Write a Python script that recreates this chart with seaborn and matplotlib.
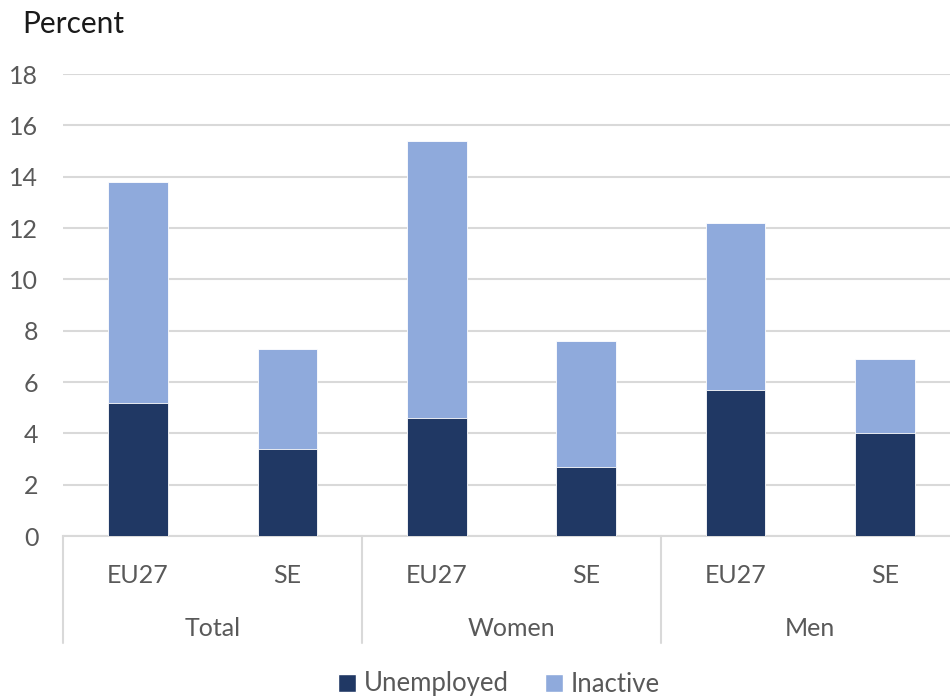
import matplotlib
matplotlib.use("Agg")
import matplotlib.pyplot as plt
from matplotlib.patches import Patch
from matplotlib.transforms import blended_transform_factory
import seaborn as sns
import pandas as pd

groups = ["Total", "Women", "Men"]
areas = ["EU27", "SE"]
unemployed = [5.2, 3.4, 4.6, 2.7, 5.7, 4.0]
inactive = [8.6, 3.9, 10.8, 4.9, 6.5, 2.9]

keys = [f"{g} {a}" for g in groups for a in areas]
df = pd.DataFrame({
    "key": keys,
    "area": [a for g in groups for a in areas],
    "unemployed": unemployed,
    "inactive": inactive,
})
df["total"] = df["unemployed"] + df["inactive"]

sns.set_theme(style="white")
plt.rcParams["font.family"] = ["Lato", "DejaVu Sans"]

dark = "#203864"
light = "#8FAADC"
grid_c = "#D9D9D9"
text_c = "#595959"

fig = plt.figure(figsize=(9.5, 7), dpi=100)
ax = fig.add_axes([63.3 / 950, 164 / 700, 896.4 / 950, 462 / 700])

sns.barplot(data=df, x="key", y="total", order=keys, color=light,
            width=0.4, saturation=1, ax=ax, zorder=3)
sns.barplot(data=df, x="key", y="unemployed", order=keys, color=dark,
            width=0.4, saturation=1, ax=ax, zorder=4)
for p in ax.patches:
    p.set_edgecolor("white")
    p.set_linewidth(0.6)

ax.set_xlim(-0.5, len(keys) - 0.5)
ax.set_ylim(0, 18)
ax.set_yticks(range(0, 19, 2))
ax.yaxis.grid(True, color=grid_c, linewidth=1.5, zorder=0)
ax.set_axisbelow(True)
for s in ["top", "right", "left"]:
    ax.spines[s].set_visible(False)
ax.spines["bottom"].set_color(grid_c)
ax.spines["bottom"].set_linewidth(1.5)
ax.spines["bottom"].set_zorder(1)

ax.tick_params(axis="y", labelsize=18, colors=text_c, length=0, pad=18)
ax.set_xticks(range(len(keys)))
ax.set_xticklabels(df["area"], fontsize=18, color=text_c)
ax.tick_params(axis="x", length=0, pad=20)
ax.set_xlabel("")
ax.set_ylabel("")

# group labels and separators beneath the category axis
tr = blended_transform_factory(ax.transData, ax.transAxes)
for i, g in enumerate(groups):
    ax.text(2 * i + 0.5, -0.2, g, transform=tr, ha="center", va="center",
            fontsize=18, color=text_c)
for x in [-0.5, 1.5, 3.5]:
    ax.plot([x, x], [0, -0.2316], transform=tr, color=grid_c,
            linewidth=1.5, clip_on=False)

fig.text(22 / 950, 1 - 24 / 700, "Percent", fontsize=21.5, color="#1a1a1a",
         ha="left", va="center")

handles = [Patch(facecolor=dark, label="Unemployed"),
           Patch(facecolor=light, label="Inactive")]
fig.legend(handles=handles, loc="center", bbox_to_anchor=(0.525, 1 - 684 / 700),
           ncol=2, frameon=False, fontsize=18.5, handlelength=0.7,
           handleheight=0.7, handletextpad=0.3, columnspacing=1.4,
           labelcolor=text_c)

fig.savefig("out.png", dpi=100)
